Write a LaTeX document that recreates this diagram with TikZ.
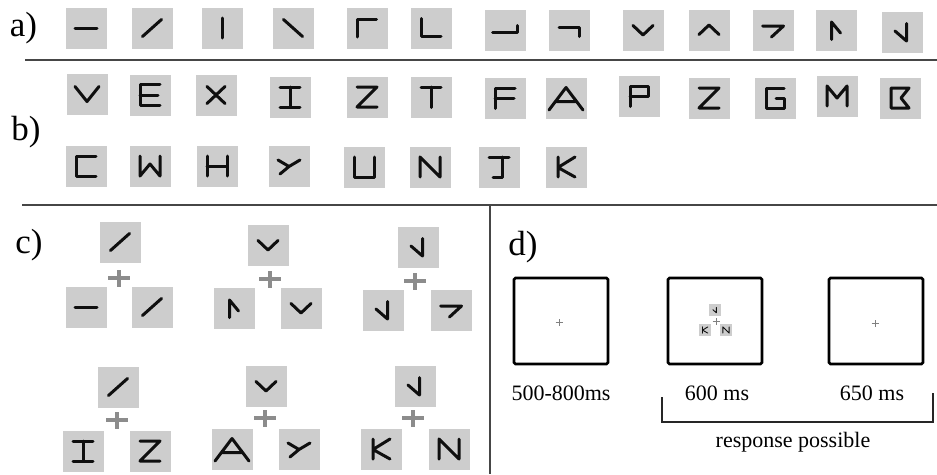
\documentclass[tikz,border=0pt]{standalone}
\usepackage{fontspec}
\setmainfont{Liberation Serif}
\definecolor{tilegray}{RGB}{205,205,205}
\definecolor{glyphcol}{RGB}{15,15,15}
\definecolor{plusgray}{RGB}{140,140,140}
\definecolor{sepcol}{RGB}{70,70,70}
% glyph paths, local units, y up
\def\ghbar{(-1.1,0)--(1.1,0)}
\def\gslash{(-0.95,-0.85)--(0.95,0.85)}
\def\gvbar{(0,-1)--(0,1)}
\def\gbslash{(-0.95,0.85)--(0.95,-0.85)}
\def\gctl{(-0.95,-0.9)--(-0.95,0.9)--(0.95,0.9)}
\def\gcbl{(-1,0.95)--(-1,-0.85)--(1,-0.85)}
\def\gcbr{(-1.25,-0.25)--(1.25,-0.25)--(1.25,0.45)}
\def\gctr{(-1,0.3)--(1,0.3)--(1,-0.65)}
\def\gvee{(-1,0.45)--(0,-0.5)--(1,0.45)}
\def\gwedge{(-1,-0.45)--(0,0.5)--(1,-0.45)}
\def\gseven{(-1.05,0.4)--(1.05,0.4)--(-0.15,-0.7)}
\def\gflag{(0.45,-0.3)--(-0.45,0.8)--(-0.45,-0.95)}
\def\groot{(0.45,0.85)--(0.45,-0.9)--(-0.7,0.1)}
\def\gV{(-1.2,0.75)--(0,-0.75)--(1.2,0.75)}
\def\gE{(1,1.05)--(-1,1.05)--(-1,-1.05)--(1,-1.05) (-1,0)--(0.8,0)}
\def\gX{(-0.9,0.85)--(0.9,-0.85) (-0.9,-0.85)--(0.9,0.85)}
\def\gI{(-1,1)--(1,1) (0,1)--(0,-1) (-1,-1)--(1,-1)}
\def\gZ{(-1,1)--(1,1)--(-1,-1)--(1,-1)}
\def\gT{(-1,1)--(1,1) (0,1)--(0,-1.05)}
\def\gF{(1,1)--(-1,1)--(-1,-1.05) (-1,0)--(0.9,0)}
\def\gA{(-1.7,-1.2)--(0,1.05)--(1.7,-1.2) (-1.05,-0.35)--(1.05,-0.35)}
\def\gP{(-0.9,-1.05)--(-0.9,1)--(0.9,1)--(0.9,0)--(-0.9,0)}
\def\gG{(0.9,1)--(-0.9,1)--(-0.9,-1)--(0.9,-1)--(0.9,0)--(0.1,0)}
\def\gM{(-1,-1)--(-1,1)--(0,-0.2)--(1,1)--(1,-1)}
\def\gB{(-0.9,1)--(0.9,1)--(0.1,0)--(0.9,-1)--(-0.9,-1)--cycle}
\def\gC{(1,1)--(-1,1)--(-1,-1)--(1,-1)}
\def\gW{(-1,1)--(-1,-1)--(0,0.2)--(1,-1)--(1,1)}
\def\gH{(-1,1)--(-1,-1) (1,1)--(1,-1) (-1,0)--(1,0)}
\def\gY{(-1.1,0.6)--(0,-0.05) (1.1,0.6)--(0,-0.05)--(-0.9,-0.8)}
\def\gU{(-1,1)--(-1,-1)--(1,-1)--(1,1)}
\def\gN{(-1,-1)--(-1,1)--(1,-1)--(1,1)}
\def\gJ{(-1,1)--(1,1) (0.3,1)--(0.3,-1)--(-0.6,-1)}
\def\gK{(-0.8,1)--(-0.8,-1) (0.9,1)--(-0.8,-0.05)--(0.9,-1)}
\newcommand\putglyph[4]{\expandafter\let\expandafter\curglyph\csname g#3\endcsname
  \draw[#4,shift={(#2)},xscale=#1,yscale=-#1] \curglyph;}
\newcommand\tile[3]{\node[tile] (#1) at (#2) {};\putglyph{10}{#1.center}{#3}{glyphline}}
\newcommand\minitile[3]{\node[minitile] (#1) at (#2) {};\putglyph{3.1}{#1.center}{#3}{miniglyph}}
\newcommand\plusat[5]{\coordinate (#1) at (#2);
  \draw[#5] ([xshift=-#3pt]#1)--([xshift=#3pt]#1) ([yshift=-#4pt]#1)--([yshift=#4pt]#1);}
\tikzset{
 tile/.style={fill=tilegray, minimum size=41pt, inner sep=0pt, draw=none},
 minitile/.style={fill=tilegray, minimum size=12pt, inner sep=0pt, draw=none},
 glyphline/.style={draw=glyphcol, line width=3pt, line cap=round, line join=round},
 miniglyph/.style={draw=glyphcol, line width=0.9pt, line cap=round, line join=round},
 plusline/.style={draw=plusgray, line width=3.8pt},
 smallplus/.style={draw=gray, line width=0.8pt},
 sep/.style={draw=sepcol, line width=2.4pt},
 screen/.style={draw=black, line width=2.6pt, rounded corners=1.5pt, minimum width=94pt, minimum height=86pt, inner sep=0pt},
 panel/.style={font=\fontsize{35}{40}\selectfont, inner sep=0pt},
 timing/.style={font=\fontsize{22}{26}\selectfont, inner sep=0pt},
 bracket/.style={draw=black!85, line width=2.8pt},
}
\begin{document}
\begin{tikzpicture}[x=1pt,y=-1pt]
\useasboundingbox (0,0) rectangle (937,474);
\fill[white] (0,0) rectangle (937,474);
% separators
\coordinate (s1a) at (25,60); \coordinate (s1b) at (937,60);
\coordinate (s2a) at (22,205); \coordinate (s2b) at (937,205);
\coordinate (s3a) at (490,205); \coordinate (s3b) at (490,474);
\draw[sep] (s1a) -- (s1b);
\draw[sep] (s2a) -- (s2b);
\draw[sep] (s3a) -- (s3b);
% panel labels
\node[panel] (la) at (23.5,28) {a)};
\node[panel] (lb) at (26,132) {b)};
\node[panel] (lc) at (29,245) {c)};
\node[panel] (ld) at (523,247) {d)};
% row a
\tile{a1}{86,28}{hbar}
\tile{a2}{152,28}{slash}
\tile{a3}{222,28}{vbar}
\tile{a4}{293,28}{bslash}
\tile{a5}{367,28}{ctl}
\tile{a6}{431,28}{cbl}
\tile{a7}{505,30}{cbr}
\tile{a8}{569,30}{ctr}
\tile{a9}{643,30}{vee}
\tile{a10}{709,30}{wedge}
\tile{a11}{773,30}{seven}
\tile{a12}{836,30}{flag}
\tile{a13}{902,32}{root}
% row b, line 1
\tile{b1}{87,94}{V}
\tile{b2}{150,95}{E}
\tile{b3}{216,95}{X}
\tile{b4}{290,97}{I}
\tile{b5}{367,97}{Z}
\tile{b6}{431,97}{T}
\tile{b7}{505,98}{F}
\tile{b8}{566,98}{A}
\tile{b9}{639,96}{P}
\tile{b10}{709,98}{Z}
\tile{b11}{775,98}{G}
\tile{b12}{837,96}{M}
\tile{b13}{900,98}{B}
% row b, line 2
\tile{b14}{86,166}{C}
\tile{b15}{150,166}{W}
\tile{b16}{217,166}{H}
\tile{b17}{289,166}{Y}
\tile{b18}{364,167}{U}
\tile{b19}{430,167}{N}
\tile{b20}{499,167}{J}
\tile{b21}{566,167}{K}
% panel c
\tile{c1t}{120,242}{slash}
\tile{c1l}{86,307}{hbar}
\tile{c1r}{152,307}{slash}
\plusat{c1p}{119,278}{11}{8.5}{plusline}
\tile{c2t}{268,245}{vee}
\tile{c2l}{234,308}{flag}
\tile{c2r}{301,308}{vee}
\plusat{c2p}{270,279}{11}{8.5}{plusline}
\tile{c3t}{418,247}{root}
\tile{c3l}{383,310}{root}
\tile{c3r}{451,310}{seven}
\plusat{c3p}{415,281}{11}{8.5}{plusline}
\tile{c4t}{118,387}{slash}
\tile{c4l}{83,451}{I}
\tile{c4r}{150,451}{Z}
\plusat{c4p}{117,420}{11}{8.5}{plusline}
\tile{c5t}{266,386}{vee}
\tile{c5l}{232,449}{A}
\tile{c5r}{299,449}{Y}
\plusat{c5p}{265,418}{11}{8.5}{plusline}
\tile{c6t}{415,386}{root}
\tile{c6l}{381,449}{K}
\tile{c6r}{449,449}{N}
\plusat{c6p}{413,418}{11}{8.5}{plusline}
% panel d
\node[screen] (d1) at (561,321) {};
\node[screen] (d2) at (715,321) {};
\node[screen] (d3) at (876,321) {};
\plusat{d1p}{559,322}{3.5}{3.5}{smallplus}
\plusat{d3p}{875,323}{3.5}{3.5}{smallplus}
\minitile{m1}{715,310}{root}
\minitile{m2}{705,330}{K}
\minitile{m3}{726,330}{N}
\plusat{d2p}{716,321}{3.5}{3.5}{smallplus}
\node[timing] (t1) at (561,393) {500-800ms};
\node[timing] (t2) at (717,393) {600 ms};
\node[timing] (t3) at (872,393) {650 ms};
\node[timing] (t4) at (793,442) {response possible};
\coordinate (br1) at (662,397);
\coordinate (br2) at (662,422);
\coordinate (br3) at (933,422);
\coordinate (br4) at (933,393);
\draw[bracket] (br1) -- (br2) -- (br3) -- (br4);
\end{tikzpicture}
\end{document}
